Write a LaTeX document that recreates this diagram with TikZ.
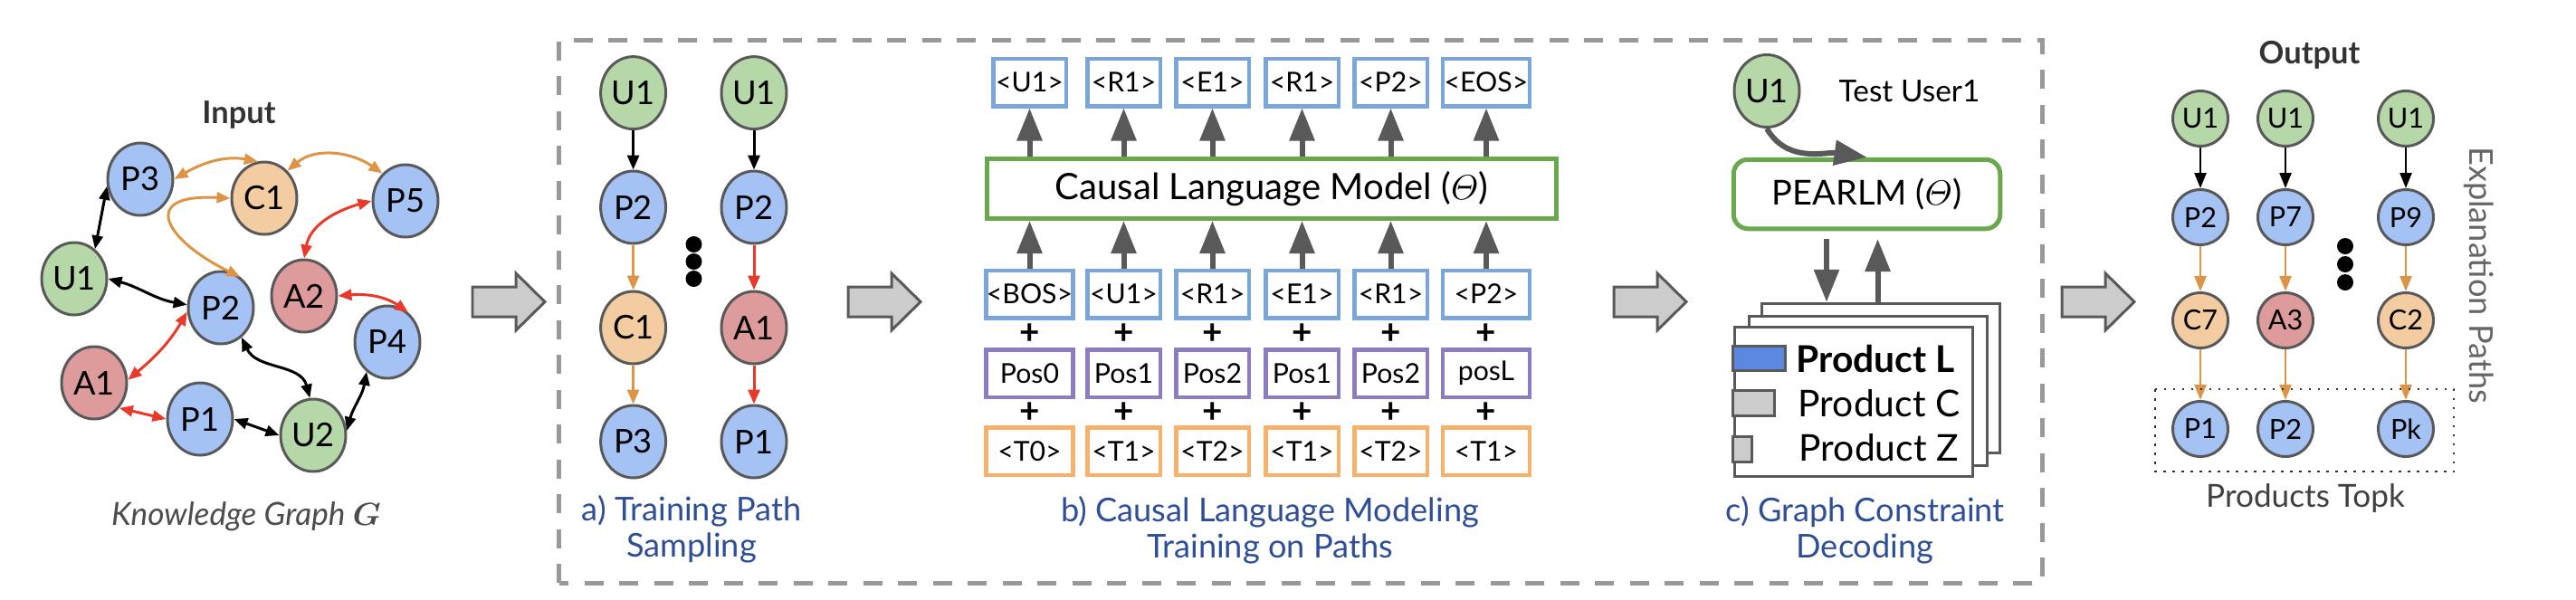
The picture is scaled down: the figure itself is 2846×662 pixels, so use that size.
\documentclass[tikz,border=0pt]{standalone}
\usepackage{amsmath,amssymb}
\usepackage[no-math]{fontspec}
\setmainfont{Lato}
\usetikzlibrary{shapes.geometric, arrows.meta}

\definecolor{ndline}{HTML}{595959}
\definecolor{ufill}{HTML}{B6D7A8}
\definecolor{pfill}{HTML}{A4C2F4}
\definecolor{cfill}{HTML}{F3CDA1}
\definecolor{afill}{HTML}{DD9B9B}
\definecolor{eorange}{HTML}{DD9444}
\definecolor{ered}{HTML}{E8392A}
\definecolor{tblue}{HTML}{7BA6DA}
\definecolor{tpurple}{HTML}{8E7CC3}
\definecolor{torange}{HTML}{F6B26B}
\definecolor{mgreen}{HTML}{6AA84F}
\definecolor{capblue}{HTML}{2E4E96}
\definecolor{framegray}{HTML}{999999}
\definecolor{arrowgray}{HTML}{CCCCCC}
\definecolor{barblue}{HTML}{5B87E0}

\begin{document}
\begin{tikzpicture}[x=0.1mm, y=0.1mm,
		nd/.style={ellipse, draw=ndline, line width=0.85pt, inner sep=0pt, minimum width=7.2mm, minimum height=8mm, font=\fontsize{10.3}{12}\selectfont},
		sm/.style={nd, minimum width=6.1mm, minimum height=6.1mm, font=\fontsize{8.7}{10}\selectfont},
		kedge/.style={line width=0.85pt, {Triangle[length=1.5mm, width=1.2mm]}-{Triangle[length=1.5mm, width=1.2mm]}},
		pedge/.style={line width=0.85pt, -{Triangle[length=1.6mm, width=1.3mm]}},
		oedge/.style={line width=0.7pt, -{Triangle[length=1.7mm, width=1.3mm]}},
		fat/.style={draw=ndline, line width=1.7pt, -{Triangle[length=3.6mm, width=2.7mm]}},
		tok/.style={rectangle, line width=1.28pt, inner sep=0pt, minimum width=8.05mm, minimum height=5.25mm, font=\fontsize{8.6}{10}\selectfont},
		wide/.style={minimum width=9.6mm},
		blu/.style={tok, draw=tblue}, pur/.style={tok, draw=tpurple}, org/.style={tok, draw=torange},
		plus/.style={font=\fontsize{11}{12}\selectfont\bfseries},
		card/.style={rectangle, draw=ndline, fill=white, line width=0.85pt, inner sep=0pt, minimum width=26.3mm, minimum height=16.5mm},
		capt/.style={align=center, text=capblue, font=\fontsize{10.3}{11.3}\selectfont},
		gar/.style={draw=ndline, fill=arrowgray, line width=0.85pt},
		title/.style={text=black!80, font=\fontsize{9.8}{12}\selectfont\bfseries},
	]
	\useasboundingbox (0,0) rectangle (2846,662);
	\node[title] (inp) at (264,535) {Input};
	\node[nd, fill=pfill] (kp3) at (155,464) {P3};
	\node[nd, fill=cfill] (kc1) at (292,443) {C1};
	\node[nd, fill=pfill] (kp5) at (448,440) {P5};
	\node[nd, fill=ufill] (ku1) at (82,354) {U1};
	\node[nd, fill=pfill] (kp2) at (244,322) {P2};
	\node[nd, fill=afill] (ka2) at (336,335) {A2};
	\node[nd, fill=pfill] (kp4) at (428,284) {P4};
	\node[nd, fill=afill] (ka1) at (104,239) {A1};
	\node[nd, fill=pfill] (kp1) at (221,199) {P1};
	\node[nd, fill=ufill] (ku2) at (346,181) {U2};
	\draw[kedge] (kp3.192) -- (ku1.55);
	\draw[kedge] (ku1.0) to[out=-15, in=170] (kp2.175);
	\draw[kedge, ered] (kp2.187) to[out=240, in=40] (ka1.5);
	\draw[kedge] (kp2.-55) to[out=-65, in=105] (ku2.95);
	\draw[kedge, ered] (ka1.-45) -- (kp1.180);
	\draw[kedge] (kp1.0) -- (ku2.180);
	\draw[kedge] (ku2.8) to[out=75, in=-100] (kp4.-125);
	\draw[kedge, ered] (ka2.0) to[out=5, in=145] (kp4.55);
	\draw[kedge, ered] (kp5.180) to[out=195, in=80] (ka2.90);
	\draw[kedge, eorange] (kc1.50) to[out=40, in=145] (kp5.130);
	\draw[kedge, eorange] (kp3.0) to[out=30, in=170] (kc1.100);
	\draw[kedge, eorange] (kc1.180) .. controls (150,448) and (185,395) .. (kp2.58);
	\node[text=black!70, font=\fontsize{10}{12}\selectfont\itshape] (kgt) at (272,91) {Knowledge Graph $\boldsymbol{G}$};

	\draw[gar] (522,312) -- ++(48,0) -- ++(0,-15) -- ++(32,31.5) -- ++(-32,31.5) -- ++(0,-15) -- ++(-48,0) -- cycle;
	\draw[gar] (937,312) -- ++(48,0) -- ++(0,-15) -- ++(32,31.5) -- ++(-32,31.5) -- ++(0,-15) -- ++(-48,0) -- cycle;
	\draw[gar] (1783,312) -- ++(48,0) -- ++(0,-15) -- ++(32,31.5) -- ++(-32,31.5) -- ++(0,-15) -- ++(-48,0) -- cycle;
	\draw[gar] (2278,312) -- ++(48,0) -- ++(0,-15) -- ++(32,31.5) -- ++(-32,31.5) -- ++(0,-15) -- ++(-48,0) -- cycle;

	\draw[framegray, line width=1.42pt, dash pattern=on 2.1mm off 1.75mm] (617.6,18) rectangle (2256,618);

	\node[nd, fill=ufill] (a1u1) at (699.6,559.4) {U1};
	\node[nd, fill=pfill] (a1p2) at (699.6,433) {P2};
	\node[nd, fill=cfill] (a1c1) at (699.6,300) {C1};
	\node[nd, fill=pfill] (a1p3) at (699.6,174) {P3};
	\node[nd, fill=ufill] (a2u1) at (833,559.4) {U1};
	\node[nd, fill=pfill] (a2p2) at (833,433) {P2};
	\node[nd, fill=afill] (a2a1) at (833,300) {A1};
	\node[nd, fill=pfill] (a2p1) at (833,174) {P1};
	\draw[pedge] (a1u1) -- (a1p2);
	\draw[pedge, eorange] (a1p2) -- (a1c1);
	\draw[pedge, eorange] (a1c1) -- (a1p3);
	\draw[pedge] (a2u1) -- (a2p2);
	\draw[pedge, ered] (a2p2) -- (a2a1);
	\draw[pedge, ered] (a2a1) -- (a2p1);
	\fill (766.5,392) circle (9);
	\fill (766.5,373) circle (9);
	\fill (766.5,354) circle (9);
	\node[capt] (capa) at (764,77) {a) Training Path\\Sampling};

	\node[blu] (o1) at (1137.5,571) {<U1>};
	\node[blu] (o2) at (1241.5,571) {<R1>};
	\node[blu] (o3) at (1339.5,571) {<E1>};
	\node[blu] (o4) at (1438.5,571) {<R1>};
	\node[blu] (o5) at (1536.5,571) {<P2>};
	\node[blu, wide] (o6) at (1642,571) {<EOS>};
	\node[draw=mgreen, line width=1.42pt, inner sep=0pt, minimum width=62.9mm, minimum height=6.6mm, font=\fontsize{11.4}{13}\selectfont] (clm) at (1405,453.5) {Causal Language Model ($\varTheta$)};
	\node[blu, wide] (i1) at (1137.5,337) {<BOS>};
	\node[blu] (i2) at (1241.5,337) {<U1>};
	\node[blu] (i3) at (1339.5,337) {<R1>};
	\node[blu] (i4) at (1438.5,337) {<E1>};
	\node[blu] (i5) at (1536.5,337) {<R1>};
	\node[blu, wide] (i6) at (1642,337) {<P2>};
	\node[plus] (pa1) at (1137.5,293) {+};
	\node[plus] (pa2) at (1241.5,293) {+};
	\node[plus] (pa3) at (1339.5,293) {+};
	\node[plus] (pa4) at (1438.5,293) {+};
	\node[plus] (pa5) at (1536.5,293) {+};
	\node[plus] (pa6) at (1642,293) {+};
	\node[pur, wide] (q1) at (1137.5,249.5) {Pos0};
	\node[pur] (q2) at (1241.5,249.5) {Pos1};
	\node[pur] (q3) at (1339.5,249.5) {Pos2};
	\node[pur] (q4) at (1438.5,249.5) {Pos1};
	\node[pur] (q5) at (1536.5,249.5) {Pos2};
	\node[pur, wide] (q6) at (1642,249.5) {posL};
	\node[plus] (pb1) at (1137.5,206) {+};
	\node[plus] (pb2) at (1241.5,206) {+};
	\node[plus] (pb3) at (1339.5,206) {+};
	\node[plus] (pb4) at (1438.5,206) {+};
	\node[plus] (pb5) at (1536.5,206) {+};
	\node[plus] (pb6) at (1642,206) {+};
	\node[org, wide] (t1) at (1137.5,163.5) {<T0>};
	\node[org] (t2) at (1241.5,163.5) {<T1>};
	\node[org] (t3) at (1339.5,163.5) {<T2>};
	\node[org] (t4) at (1438.5,163.5) {<T1>};
	\node[org] (t5) at (1536.5,163.5) {<T2>};
	\node[org, wide] (t6) at (1642,163.5) {<T1>};
	\draw[fat] (o1.south |- clm.north) -- (o1.south);
	\draw[fat] (o2.south |- clm.north) -- (o2.south);
	\draw[fat] (o3.south |- clm.north) -- (o3.south);
	\draw[fat] (o4.south |- clm.north) -- (o4.south);
	\draw[fat] (o5.south |- clm.north) -- (o5.south);
	\draw[fat] (o6.south |- clm.north) -- (o6.south);
	\draw[fat] (i1.north) -- (i1.north |- clm.south);
	\draw[fat] (i2.north) -- (i2.north |- clm.south);
	\draw[fat] (i3.north) -- (i3.north |- clm.south);
	\draw[fat] (i4.north) -- (i4.north |- clm.south);
	\draw[fat] (i5.north) -- (i5.north |- clm.south);
	\draw[fat] (i6.north) -- (i6.north |- clm.south);
	\node[capt] (capb) at (1403,76) {b) Causal Language Modeling\\Training on Paths};

	\node[nd, fill=ufill] (tu) at (1952,561.5) {U1};
	\node[font=\fontsize{9.5}{12}\selectfont] (tut) at (2109.5,561.5) {Test User1};
	\node[draw=mgreen, line width=1.42pt, rounded corners=1.6mm, inner sep=0pt, minimum width=29.45mm, minimum height=7.65mm, font=\fontsize{10.8}{12}\selectfont] (pl) at (2062.5,447.5) {PEARLM ($\varTheta$)};
	\draw[fat] (tu.south) to[out=-60, in=172] (pl.north);
	\node[card] (cd3) at (2078,244.25) {};
	\node[card] (cd2) at (2064,230.5) {};
	\node[card] (cd1) at (2047.5,218) {};
	\coordinate (dn) at (2018,398);
	\coordinate (up) at (2074.5,398);
	\draw[fat] (dn) -- (dn |- cd3.north);
	\draw[fat] (up |- cd3.north) -- (up);
	\draw[ndline, line width=0.85pt, fill=barblue] (1914,280) rectangle (1972,253);
	\draw[ndline, line width=0.85pt, fill=arrowgray] (1914,230.5) rectangle (1960.5,203);
	\draw[ndline, line width=0.85pt, fill=arrowgray] (1914,180) rectangle (1935,152);
	\node[anchor=west, inner sep=0pt, font=\fontsize{11.6}{12}\selectfont\bfseries] (prl) at (1984,265) {Product L};
	\node[anchor=west, inner sep=0pt, font=\fontsize{11.6}{12}\selectfont] (prc) at (1986,216) {Product C};
	\node[anchor=west, inner sep=0pt, font=\fontsize{11.6}{12}\selectfont] (prz) at (1987,167) {Product Z};
	\node[capt] (capc) at (2060.5,76) {c) Graph Constraint\\Decoding};

	\node[title] (outp) at (2551.5,601) {Output};
	\node[sm, fill=ufill] (e1u) at (2431,531) {U1};
	\node[sm, fill=pfill] (e1p) at (2431,422) {P2};
	\node[sm, fill=cfill] (e1c) at (2431,308) {C7};
	\node[sm, fill=pfill] (e1k) at (2431,188) {P1};
	\node[sm, fill=ufill] (e2u) at (2525,531) {U1};
	\node[sm, fill=pfill] (e2p) at (2525,422) {P7};
	\node[sm, fill=afill] (e2c) at (2525,308) {A3};
	\node[sm, fill=pfill] (e2k) at (2525,188) {P2};
	\node[sm, fill=ufill] (e3u) at (2658,531) {U1};
	\node[sm, fill=pfill] (e3p) at (2658,422) {P9};
	\node[sm, fill=cfill] (e3c) at (2658,308) {C2};
	\node[sm, fill=pfill] (e3k) at (2658,188) {Pk};
	\draw[oedge] (e1u) -- (e1p);
	\draw[oedge, eorange] (e1p) -- (e1c);
	\draw[oedge, eorange] (e1c) -- (e1k);
	\draw[oedge] (e2u) -- (e2p);
	\draw[oedge, eorange] (e2p) -- (e2c);
	\draw[oedge, eorange] (e2c) -- (e2k);
	\draw[oedge] (e3u) -- (e3p);
	\draw[oedge, eorange] (e3p) -- (e3c);
	\draw[oedge, eorange] (e3c) -- (e3k);
	\fill (2591,390) circle (9);
	\fill (2591,370) circle (9);
	\fill (2591,350) circle (9);
	\draw[black!80, line width=0.7pt, dash pattern=on 0.25mm off 0.75mm] (2381,232) rectangle (2711,141);
	\node[text=black!75, font=\fontsize{10}{12}\selectfont] (topk) at (2547,111) {Products Topk};
	\node[rotate=-90, text=black!60, font=\fontsize{10.3}{12}\selectfont] (expl) at (2738.5,358) {Explanation Paths};
\end{tikzpicture}
\end{document}
